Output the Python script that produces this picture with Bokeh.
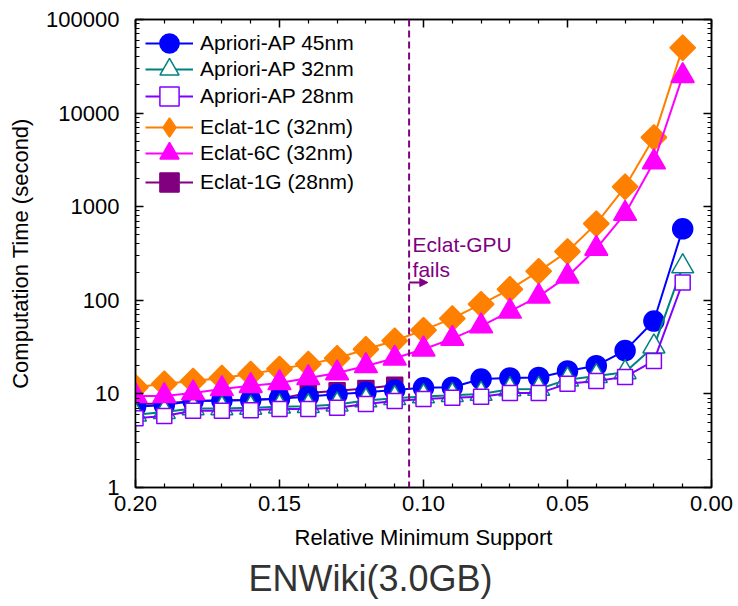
import math
from bokeh.plotting import figure
from bokeh.models import (Range1d, FixedTicker, PrintfTickFormatter, LinearAxis, LogAxis,
                          Legend, LegendItem, Span, Label, Arrow, NormalHead, Title,
                          CustomJSTickFormatter)
from bokeh.embed import file_html
from bokeh.resources import INLINE

# ---------------- data ----------------
support = [0.20, 0.19, 0.18, 0.17, 0.16, 0.15, 0.14, 0.13, 0.12, 0.11,
           0.10, 0.09, 0.08, 0.07, 0.06, 0.05, 0.04, 0.03, 0.02, 0.01]
ap45 = [7.3, 7.6, 8.4, 8.5, 8.6, 8.9, 9.4, 9.9, 10.4, 11.0,
        11.6, 11.8, 14.4, 14.8, 15.0, 17.6, 20.0, 29.0, 60.0, 580.0]
ap32 = [6.0, 6.4, 7.0, 7.0, 7.1, 7.3, 7.4, 7.7, 8.5, 9.0,
        9.4, 9.7, 10.0, 11.2, 11.3, 14.2, 15.5, 17.0, 32.0, 230.0]
ap28 = [5.5, 5.8, 6.6, 6.6, 6.7, 6.9, 6.9, 7.1, 7.8, 8.4,
        8.8, 9.1, 9.3, 10.2, 10.2, 12.8, 13.7, 15.2, 22.5, 155.0]
eclat1c = [11.8, 12.8, 13.7, 14.8, 16.3, 18.5, 20.8, 24.0, 30.0, 37.0,
           48.0, 64.0, 91.0, 131.0, 204.0, 332.0, 659.0, 1630.0, 5500.0, 50000.0]
eclat6c = [9.5, 9.5, 10.2, 11.3, 12.2, 13.1, 14.8, 16.7, 19.9, 24.0,
           30.0, 39.0, 53.0, 76.0, 110.0, 180.0, 357.0, 843.0, 3000.0, 25000.0]
support_1g = [0.20, 0.19, 0.18, 0.17, 0.16, 0.15, 0.14, 0.13, 0.12, 0.11]
eclat1g = [7.8, 7.9, 8.4, 8.5, 8.6, 8.9, 10.2, 10.8, 11.4, 12.4]

series_labels = ["Apriori-AP 45nm", "Apriori-AP 32nm", "Apriori-AP 28nm",
                 "Eclat-1C (32nm)", "Eclat-6C (32nm)", "Eclat-1G (28nm)"]

x_major = [0.20, 0.15, 0.10, 0.05, 0.00]
x_minor = [0.19, 0.18, 0.17, 0.16, 0.14, 0.13, 0.12, 0.11,
           0.09, 0.08, 0.07, 0.06, 0.04, 0.03, 0.02, 0.01]
y_major = [1, 10, 100, 1000, 10000, 100000]
y_minor = [k * 10 ** d for d in range(0, 5) for k in range(2, 10)]

gpu_fail_x = 0.105
title_text = "ENWiki(3.0GB)"

FONT = "Liberation Sans"
PURPLE = "#800080"

p = figure(width=738, height=606, output_backend="svg", toolbar_location=None,
           y_axis_type="log",
           x_range=Range1d(0.20, 0.00), y_range=Range1d(1, 100000),
           min_border_left=135, min_border_right=27, min_border_top=19, min_border_bottom=119)
p.grid.visible = False
p.outline_line_color = "black"
p.outline_line_width = 1.5
p.background_fill_color = "white"
p.border_fill_color = "white"


def style_axis(ax):
    ax.major_tick_in = 8
    ax.major_tick_out = 0
    ax.minor_tick_in = 4
    ax.minor_tick_out = 0
    ax.axis_line_width = 1.5
    ax.major_tick_line_width = 1.5
    ax.minor_tick_line_width = 1.2
    ax.axis_line_color = "black"
    ax.major_label_text_font = FONT
    ax.major_label_text_font_size = "22px"
    ax.major_label_text_color = "black"
    ax.axis_label_text_font = FONT
    ax.axis_label_text_font_size = "22px"
    ax.axis_label_text_font_style = "normal"
    ax.axis_label_text_color = "black"


p.xaxis.ticker = FixedTicker(ticks=x_major, minor_ticks=x_minor)
p.xaxis.formatter = PrintfTickFormatter(format="%.2f")
p.xaxis.axis_label = "Relative Minimum Support"
style_axis(p.xaxis[0])
p.xaxis.major_label_standoff = 8
p.xaxis.axis_label_standoff = 11

p.yaxis.ticker = FixedTicker(ticks=y_major, minor_ticks=y_minor)
p.yaxis.formatter = PrintfTickFormatter(format="%d")
p.yaxis.axis_label = "Computation Time (second)"
style_axis(p.yaxis[0])
p.yaxis.major_label_standoff = 16
p.yaxis.axis_label_standoff = 10

top_ax = LinearAxis(ticker=FixedTicker(ticks=x_major, minor_ticks=x_minor),
                    formatter=CustomJSTickFormatter(code="return ''"))
style_axis(top_ax)
top_ax.major_label_standoff = 0
p.add_layout(top_ax, "above")
right_ax = LogAxis(ticker=FixedTicker(ticks=y_major, minor_ticks=y_minor),
                   formatter=CustomJSTickFormatter(code="return ''"))
style_axis(right_ax)
right_ax.major_label_standoff = 0
p.add_layout(right_ax, "right")

# ---------------- series ----------------
def series(xs, ys, color, marker, size, fill, angle=0.0, lw=2):
    lr = p.line(xs, ys, line_color=color, line_width=lw)
    sr = p.scatter(xs, ys, marker=marker, size=size, fill_color=fill,
                   line_color=color, line_width=1.5, angle=angle)
    return [lr, sr]

# Eclat-1G is drawn first so it sits underneath the Apriori-AP markers
r_1g = series(support_1g, eclat1g, PURPLE, "square", 16, PURPLE)
r_ap45 = series(support, ap45, "#0000FF", "circle", 20, "#0000FF")
r_ap32 = series(support, ap32, "#008080", "triangle", 22, "white")
r_ap28 = series(support, ap28, "#8000FF", "square", 15, "white")
r_1c = series(support, eclat1c, "#FF8000", "square", 18, "#FF8000", angle=math.pi / 4)
r_6c = series(support, eclat6c, "#FF00FF", "triangle", 23, "#FF00FF")

# legend-only key for the diamond series (legend keys ignore marker rotation);
# its single point is NaN so nothing is drawn in the plot itself
key_1c = p.scatter(x=[float("nan")], y=[float("nan")], marker="diamond", size=20,
                   fill_color="#FF8000", line_color="#FF8000", line_width=1.5)

legend_renderers = [r_ap45, r_ap32, r_ap28, [r_1c[0], key_1c], r_6c, r_1g]
# one single-item legend per row so the keys can be drawn large
legend_bottoms = [419, 393, 366, 335, 309, 280]
for lab, rends, bottom in zip(series_labels, legend_renderers, legend_bottoms):
    leg = Legend(items=[LegendItem(label=lab, renderers=rends)],
                 location=(10, bottom), glyph_width=48, glyph_height=50, label_height=50,
                 label_standoff=7, padding=0, margin=0, spacing=0,
                 label_text_font=FONT, label_text_font_size="21px", label_text_color="black",
                 border_line_color=None, background_fill_alpha=0)
    p.add_layout(leg)

# ---------------- annotation ----------------
p.add_layout(Span(location=gpu_fail_x, dimension="height", line_color=PURPLE,
                  line_dash="7 4", line_width=2))
p.add_layout(Label(x=0.1038, y=395, text="Eclat-GPU", text_font=FONT, text_font_size="21px",
                   text_color=PURPLE, text_baseline="alphabetic"))
p.add_layout(Label(x=0.1038, y=212, text="fails", text_font=FONT, text_font_size="21px",
                   text_color=PURPLE, text_baseline="alphabetic"))
p.add_layout(Arrow(end=NormalHead(size=8, fill_color=PURPLE, line_color=PURPLE),
                   x_start=gpu_fail_x, y_start=155, x_end=0.0985, y_end=155,
                   line_color=PURPLE, line_width=2))

p.add_layout(Title(text=title_text, align="left", offset=113, text_font=FONT, standoff=6,
                   text_font_size="36px", text_font_style="normal", text_color="#333333"),
             "below")

open("out.html", "w").write(file_html(p, INLINE))
